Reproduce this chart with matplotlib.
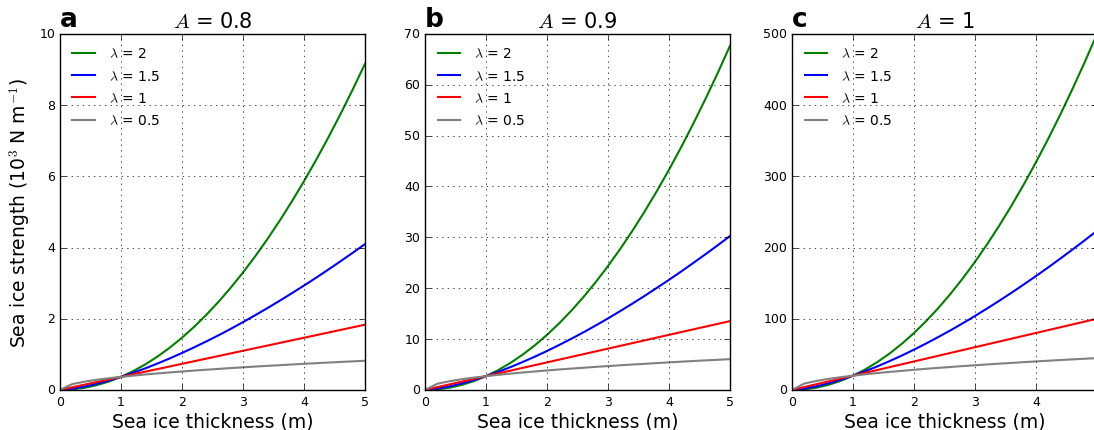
import numpy as np
import matplotlib.pyplot as plt

plt.style.use('classic')
plt.rcParams['figure.facecolor'] = 'white'
plt.rcParams['savefig.facecolor'] = 'white'
plt.rcParams['xtick.labelsize'] = 9
plt.rcParams['ytick.labelsize'] = 9
plt.rcParams['xtick.major.pad'] = 4
plt.rcParams['ytick.major.pad'] = 3.5

# ice thickness samples (m)
thickness = [0.0, 0.2, 0.4, 0.6, 0.8, 1.0, 1.2, 1.4, 1.6, 1.8, 2.0, 2.2, 2.4,
             2.6, 2.8, 3.0, 3.2, 3.4, 3.6, 3.8, 4.0, 4.2, 4.4, 4.6, 4.8, 5.0]

lambdas = ['2', '1.5', '1', '0.5']
colors = ['green', 'blue', 'red', 'gray']

# strength for A = 0.8 (10^3 N/m), one row per lambda
strength_a = [
    [0, 0.015, 0.059, 0.132, 0.234, 0.366, 0.527, 0.718, 0.938, 1.187, 1.465, 1.773, 2.110,
     2.476, 2.872, 3.297, 3.751, 4.235, 4.747, 5.290, 5.861, 6.462, 7.092, 7.751, 8.440, 9.158],
    [0, 0.033, 0.093, 0.170, 0.262, 0.366, 0.482, 0.606, 0.742, 0.885, 1.037, 1.196, 1.363,
     1.535, 1.716, 1.903, 2.097, 2.297, 2.502, 2.714, 2.931, 3.152, 3.381, 3.614, 3.852, 4.095],
    [0, 0.073, 0.147, 0.220, 0.293, 0.366, 0.440, 0.513, 0.586, 0.659, 0.733, 0.806, 0.879,
     0.952, 1.026, 1.099, 1.172, 1.245, 1.319, 1.392, 1.465, 1.538, 1.612, 1.685, 1.758, 1.832],
    [0, 0.163, 0.231, 0.284, 0.328, 0.366, 0.401, 0.434, 0.463, 0.491, 0.518, 0.544, 0.568,
     0.590, 0.614, 0.634, 0.656, 0.676, 0.694, 0.714, 0.733, 0.751, 0.769, 0.786, 0.802, 0.819],
]
# A = 0.9
strength_b = [
    [0, 0.108, 0.433, 0.974, 1.732, 2.707, 3.898, 5.305, 6.929, 8.770, 10.83, 13.10, 15.59,
     18.30, 21.22, 24.36, 27.72, 31.29, 35.08, 39.09, 43.31, 47.75, 52.40, 57.28, 62.36, 67.67],
    [0, 0.244, 0.690, 1.259, 1.935, 2.707, 3.559, 4.480, 5.481, 6.537, 7.660, 8.838, 10.07,
     11.34, 12.68, 14.06, 15.50, 16.97, 18.49, 20.06, 21.65, 23.29, 24.98, 26.70, 28.46, 30.26],
    [0, 0.541, 1.083, 1.624, 2.165, 2.707, 3.248, 3.789, 4.331, 4.872, 5.413, 5.955, 6.496,
     7.037, 7.579, 8.120, 8.661, 9.202, 9.744, 10.29, 10.83, 11.37, 11.91, 12.45, 12.99, 13.53],
    [0, 1.205, 1.705, 2.098, 2.423, 2.707, 2.964, 3.208, 3.424, 3.627, 3.830, 4.020, 4.196,
     4.358, 4.534, 4.683, 4.845, 4.994, 5.129, 5.278, 5.413, 5.549, 5.684, 5.806, 5.928, 6.050],
]
# A = 1
strength_c = [
    [0, 0.8, 3.2, 7.2, 12.8, 20, 28.8, 39.2, 51.2, 64.8, 80, 96.8, 115.2,
     135.2, 156.8, 180, 204.8, 231.2, 259.2, 288.8, 320, 352.8, 387.2, 423.2, 460.8, 500],
    [0, 1.8, 5.1, 9.3, 14.3, 20, 26.3, 33.1, 40.5, 48.3, 56.6, 65.3, 74.4,
     83.8, 93.7, 103.9, 114.5, 125.4, 136.6, 148.2, 160, 172.1, 184.6, 197.3, 210.3, 223.6],
    [0, 4, 8, 12, 16, 20, 24, 28, 32, 36, 40, 44, 48,
     52, 56, 60, 64, 68, 72, 76, 80, 84, 88, 92, 96, 100],
    [0, 8.9, 12.6, 15.5, 17.9, 20, 21.9, 23.7, 25.3, 26.8, 28.3, 29.7, 31.0,
     32.2, 33.5, 34.6, 35.8, 36.9, 37.9, 39.0, 40, 41.0, 42.0, 42.9, 43.8, 44.7],
]

panels = ['a', 'b', 'c']
titles = ['$A$ = 0.8', '$A$ = 0.9', '$A$ = 1']
ymax = [10, 70, 500]
data = [strength_a, strength_b, strength_c]
lefts = [0.0548, 0.3885, 0.724]

fig = plt.figure(figsize=(10.94, 4.31), dpi=100)

for i in range(3):
    ax = fig.add_axes([lefts[i], 0.093, 0.2788, 0.826])
    for j in range(4):
        ax.plot(thickness, data[i][j], color=colors[j], lw=1.5,
                label='$\\lambda$ = ' + lambdas[j])
    ax.set_xlim(0, 5)
    ax.set_ylim(0, ymax[i])
    ax.grid(True)
    ax.set_xlabel('Sea ice thickness (m)', fontsize=13.5, labelpad=2)
    ax.set_title(titles[i], fontsize=15)
    ax.text(0.0, 1.005, panels[i], transform=ax.transAxes, fontsize=19,
            fontweight='bold', va='bottom', ha='left')
    ax.legend(loc='upper left', frameon=False, fontsize=10, numpoints=1,
              handlelength=1.6, handletextpad=1.0, labelspacing=0.6)
    if i == 0:
        ax.set_ylabel('Sea ice strength (10$^3$ N m$^{-1}$)', fontsize=13.5)

fig.savefig('out.png', dpi=100)
